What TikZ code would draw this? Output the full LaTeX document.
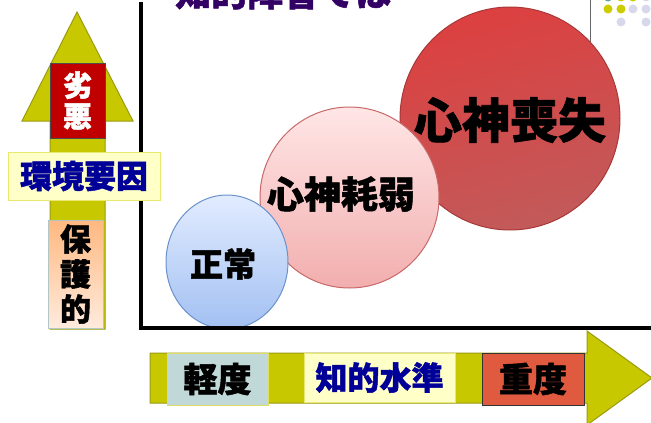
\documentclass[tikz,border=0pt]{standalone}
\usepackage{fontspec}
\newfontfamily\cjk{Noto Sans CJK JP}[FakeBold=1.4]
\definecolor{olive}{HTML}{C8C800}
\definecolor{oliveb}{HTML}{9A9A10}
\definecolor{darkred}{HTML}{C00000}
\definecolor{navy}{HTML}{000099}
\definecolor{lightyel}{HTML}{FFFFC8}
\definecolor{yelborder}{HTML}{E8E870}
\definecolor{peachtop}{HTML}{FFB880}
\definecolor{peachbot}{HTML}{FFEBDD}
\definecolor{graybl}{HTML}{C0D8D8}
\definecolor{orred}{HTML}{E05A40}
\definecolor{titlec}{HTML}{330066}
\definecolor{teal}{HTML}{5FA0A0}
\definecolor{dotyel}{HTML}{CCCC00}
\definecolor{lav}{HTML}{D8D8EC}
\definecolor{redtop}{HTML}{DC4040}
\definecolor{redbot}{HTML}{C25A5A}
\definecolor{redline}{HTML}{A83838}
\definecolor{pinktop}{HTML}{FFE6E6}
\definecolor{pinkbot}{HTML}{F2AEAE}
\definecolor{pinkline}{HTML}{C86868}
\definecolor{bluetop}{HTML}{E2ECFF}
\definecolor{bluebot}{HTML}{A2C0F2}
\definecolor{blueline}{HTML}{6A92CC}
\tikzset{
  arrowshape/.style={fill=olive, draw=oliveb, line width=1pt},
  vbox/.style={minimum width=55pt, inner sep=0pt, align=center, font=\cjk\bfseries},
  hbox/.style={minimum height=50pt, inner sep=0pt, font=\cjk\bfseries},
  circ/.style={ellipse, inner sep=0pt, line width=1pt},
  ctext/.style={font=\cjk\bfseries, text=black},
  dot/.style={circle, minimum size=9pt, inner sep=0pt}
}
\usetikzlibrary{shapes.geometric}
\begin{document}
\begin{tikzpicture}[x=1pt, y=-1pt]
\useasboundingbox (0,0) rectangle (651,423);
\clip (0,0) rectangle (651,423);
% title (cut off)
\node[anchor=base west, inner sep=0pt, font=\cjk\bfseries\fontsize{36}{36}\selectfont, text=titlec] (title) at (175,6) {知的障害では};
% top-right decoration
\draw[gray!80!black, line width=0.8pt] (590,0) -- (590,43);
\node[dot, fill=teal] (d11) at (608,-3) {};
\node[dot, fill=dotyel] (d12) at (621,-3) {};
\node[dot, fill=dotyel] (d13) at (633,-3) {};
\node[dot, fill=lav] (d14) at (646,-3) {};
\node[dot, fill=dotyel] (d21) at (608,9) {};
\node[dot, fill=dotyel] (d22) at (621,9) {};
\node[dot, fill=lav] (d23) at (633,9) {};
\node[dot, fill=lav] (d24) at (646,9) {};
\node[dot, fill=lav] (d32) at (621,22) {};
\node[dot, fill=lav] (d34) at (646,22) {};
% circles
\node[circ, minimum width=220pt, minimum height=223pt, top color=redtop, bottom color=redbot, shading angle=15, draw=redline] (c3) at (510,118.5) {};
\node[circ, minimum width=179pt, minimum height=181pt, top color=pinktop, bottom color=pinkbot, draw=pinkline] (c2) at (349.5,197.5) {};
\node[circ, minimum width=122pt, minimum height=134pt, top color=bluetop, bottom color=bluebot, draw=blueline] (c1) at (227,262) {};
\node[ctext, font=\cjk\bfseries\fontsize{48}{48}\selectfont] (t3) at (510,120) {心神喪失};
\node[ctext, font=\cjk\bfseries\fontsize{37}{37}\selectfont] (t2) at (341,194) {心神耗弱};
\node[ctext, font=\cjk\bfseries\fontsize{33}{33}\selectfont] (t1) at (223,264) {正常};
% axes
\draw[line width=4.5pt] (141,2) -- (141,328) -- (651,328);
% vertical arrow
\draw[arrowshape] (50,329) -- (50,121) -- (22,121) -- (77,12) -- (133,121) -- (105,121) -- (105,329) -- cycle;
\node[vbox, fill=darkred, draw=black!70, minimum height=75pt, text=white, font=\cjk\bfseries\fontsize{29}{31}\selectfont] (bad) at (77.5,100.5) {劣\\悪};
\node[fill=lightyel, draw=yelborder, line width=1pt, minimum width=152pt, minimum height=48pt, inner sep=0pt, text=navy, font=\cjk\bfseries\fontsize{32}{32}\selectfont] (env) at (84,176) {環境要因};
\node[vbox, top color=peachtop, bottom color=peachbot, draw=graybl!80!gray, line width=1pt, minimum height=108pt, text=black, font=\cjk\bfseries\fontsize{31}{35}\selectfont] (prot) at (75.5,274) {保\\護\\的};
% horizontal arrow
\draw[arrowshape] (150,353) -- (587,353) -- (587,331) -- (652,378) -- (587,425) -- (587,403) -- (150,403) -- cycle;
\node[hbox, fill=graybl, draw=olive!60!white, minimum width=101pt, minimum height=52pt, font=\cjk\bfseries\fontsize{34}{34}\selectfont] (mild) at (217.5,379) {軽度};
\node[hbox, fill=lightyel, draw=yelborder, minimum width=151pt, minimum height=49pt, text=navy, font=\cjk\bfseries\fontsize{32}{32}\selectfont] (iq) at (379.5,377.5) {知的水準};
\node[hbox, fill=orred, draw=black!80, line width=0.8pt, minimum width=102pt, minimum height=52pt, font=\cjk\bfseries\fontsize{34}{34}\selectfont] (severe) at (533,379) {重度};
\end{tikzpicture}
\end{document}
